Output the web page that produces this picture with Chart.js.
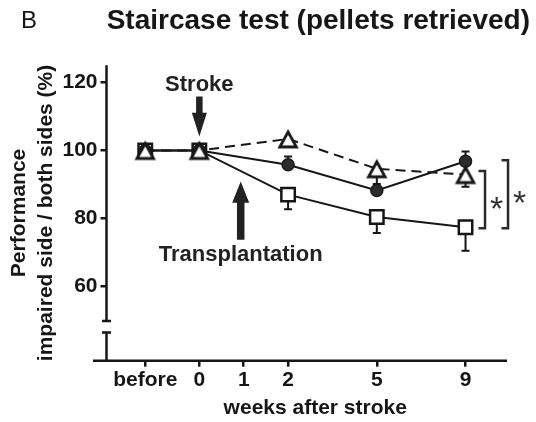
<!DOCTYPE html>
<html>
<head>
<meta charset="utf-8">
<title>Staircase test</title>
<script src="https://cdn.jsdelivr.net/npm/chart.js@4.4.0/dist/chart.umd.min.js"></script>
<style>
  html, body { margin: 0; padding: 0; background: #fff; }
  #wrap { width: 536px; height: 422px; }
</style>
</head>
<body>
<div id="wrap"><canvas id="chart" width="536" height="422"></canvas></div>
<script>
// week axis: the figure spaces its ticks unevenly, so each tick gets a position
const tickLabels = ['before', '0', '1', '2', '5', '9'];
const tickPos = [-1.22, 0, 1, 2, 4, 6];
const xRange = [-2.093, 7.318];

const yTicks = [60, 80, 100, 120];
const yRange = [38.1, 125.1];
const axisBreak = [46.4, 49.8];

// sessions at which the groups were tested
const weeks = ['before', '0', '2', '5', '9'];

// performance, impaired side / both sides (%)
const triangleVals = [100, 100, 103.4, 94.6, 92.9];
const circleVals = [100, 100, 95.8, 88.2, 96.8];
const squareVals = [100, 100, 87.0, 80.4, 77.4];

// one-sided error bars as drawn
const triangleErr = [0, 0, 0, 4.5, 3.6];   // down
const circleErr = [0, 0, 2.4, 0, 2.9];     // up
const squareErr = [0, 0, 4.3, 4.7, 6.9];   // down

const ink = '#161616';
const family = '"Liberation Sans", Arial, sans-serif';

function toPoints(vals) {
  return weeks.map((w, i) => ({ x: tickPos[tickLabels.indexOf(w)], y: vals[i] }));
}

// open triangle, centred on its bounding box like the original
function triangleMarker() {
  const c = document.createElement('canvas');
  c.width = 24; c.height = 22;
  const g = c.getContext('2d');
  g.beginPath();
  g.moveTo(12, 4); g.lineTo(20.3, 19); g.lineTo(3.7, 19); g.closePath();
  g.fillStyle = '#fff'; g.fill();
  g.lineWidth = 2.8; g.strokeStyle = ink; g.lineJoin = 'miter'; g.stroke();
  return c;
}

function arrow(ctx, x, tipY, dir, len, headLen, headW, shaftW) {
  // dir 1 points down, -1 points up
  const baseY = tipY - dir * headLen, endY = tipY - dir * len;
  ctx.beginPath();
  ctx.moveTo(x, tipY);
  ctx.lineTo(x - headW / 2, baseY);
  ctx.lineTo(x - shaftW / 2, baseY);
  ctx.lineTo(x - shaftW / 2, endY);
  ctx.lineTo(x + shaftW / 2, endY);
  ctx.lineTo(x + shaftW / 2, baseY);
  ctx.lineTo(x + headW / 2, baseY);
  ctx.closePath();
  ctx.fill();
}

const brokenAxes = {
  id: 'brokenAxes',
  beforeDatasetsDraw(chart) {
    const { ctx, chartArea: a, scales: { x, y } } = chart;
    const yb1 = y.getPixelForValue(axisBreak[1]);
    const yb0 = y.getPixelForValue(axisBreak[0]);
    ctx.save();
    ctx.strokeStyle = ink;
    ctx.lineWidth = 2.5;
    ctx.beginPath();
    ctx.moveTo(a.left, a.top); ctx.lineTo(a.left, yb1);
    ctx.moveTo(a.left - 4.5, yb1); ctx.lineTo(a.left + 4.5, yb1);
    ctx.moveTo(a.left - 4.5, yb0); ctx.lineTo(a.left + 4.5, yb0);
    ctx.moveTo(a.left, yb0); ctx.lineTo(a.left, a.bottom);
    ctx.moveTo(a.left - 13.5, a.bottom);
    ctx.lineTo(x.getPixelForValue(tickPos[tickPos.length - 1]) + 41.5, a.bottom);
    ctx.stroke();
    ctx.restore();
  }
};

const errorBars = {
  id: 'errorBars',
  beforeDatasetsDraw(chart) {
    const { ctx, scales: { y } } = chart;
    ctx.save();
    ctx.strokeStyle = ink;
    ctx.lineWidth = 2;
    chart.data.datasets.forEach((ds, di) => {
      const meta = chart.getDatasetMeta(di);
      ds.errors.forEach((e, i) => {
        if (!e) return;
        const pt = meta.data[i];
        const yEnd = y.getPixelForValue(ds.data[i].y + ds.errorDir * e);
        ctx.beginPath();
        ctx.moveTo(pt.x, pt.y); ctx.lineTo(pt.x, yEnd);
        ctx.moveTo(pt.x - 4, yEnd); ctx.lineTo(pt.x + 4, yEnd);
        ctx.stroke();
      });
    });
    ctx.restore();
  }
};

const notes = {
  id: 'notes',
  afterDatasetsDraw(chart) {
    const { ctx, scales: { x, y } } = chart;
    const y100 = y.getPixelForValue(100);
    ctx.save();
    ctx.fillStyle = '#222';
    ctx.textAlign = 'center';
    ctx.textBaseline = 'middle';
    ctx.font = 'bold 22px ' + family;

    // stroke at week 0
    const xs = x.getPixelForValue(0);
    const tipS = y100 - 14;
    arrow(ctx, xs, tipS, 1, 40, 23.7, 15, 6.5);
    ctx.fillText('Stroke', xs, tipS - 52);

    // transplantation at week 1
    const xt = x.getPixelForValue(1) - 3;
    const tipT = y100 + 31;
    arrow(ctx, xt, tipT, -1, 58.3, 21.3, 17, 7.5);
    ctx.fillText('Transplantation', xt, tipT + 73.5);

    // significance brackets at week 9
    const x9 = x.getPixelForValue(6);
    const last = weeks.length - 1;
    const bottom = y.getPixelForValue(squareVals[last]) + 1;
    const brackets = [
      { x: x9 + 19.5, top: y.getPixelForValue(triangleVals[last]) - 3.5 },
      { x: x9 + 42.5, top: y.getPixelForValue(circleVals[last]) - 1 }
    ];
    ctx.strokeStyle = '#2a2a2a';
    ctx.lineWidth = 2.5;
    ctx.font = '34px ' + family;
    ctx.textBaseline = 'alphabetic';
    brackets.forEach(b => {
      ctx.beginPath();
      ctx.moveTo(b.x - 6.5, b.top); ctx.lineTo(b.x, b.top);
      ctx.lineTo(b.x, bottom); ctx.lineTo(b.x - 6.5, bottom);
      ctx.stroke();
      ctx.fillStyle = '#333';
      ctx.fillText('*', b.x + 11.5, (b.top + bottom) / 2 + 20);
    });

    // panel letter
    ctx.fillStyle = ink;
    ctx.textAlign = 'left';
    ctx.textBaseline = 'middle';
    ctx.font = '24px ' + family;
    ctx.fillText('B', 21, 21);
    ctx.restore();
  }
};

const tickFont = { family: family, size: 21, weight: 'bold' };

new Chart(document.getElementById('chart'), {
  type: 'line',
  data: {
    datasets: [
      {
        label: 'triangles',
        data: toPoints(triangleVals),
        errors: triangleErr, errorDir: -1,
        borderColor: ink, borderWidth: 2, borderDash: [10, 6],
        pointStyle: triangleMarker(), pointRadius: 10
      },
      {
        label: 'circles',
        data: toPoints(circleVals),
        errors: circleErr, errorDir: 1,
        borderColor: ink, borderWidth: 2,
        pointStyle: 'circle', pointRadius: 6,
        pointBackgroundColor: '#2f2b2b', pointBorderColor: '#1a1a1a', pointBorderWidth: 1.5
      },
      {
        label: 'squares',
        data: toPoints(squareVals),
        errors: squareErr, errorDir: -1,
        borderColor: ink, borderWidth: 2,
        pointStyle: 'rect', pointRadius: 9.5,
        pointBackgroundColor: '#fff', pointBorderColor: ink, pointBorderWidth: 2.5
      }
    ]
  },
  options: {
    responsive: false,
    animation: false,
    events: [],
    layout: { padding: { right: 6 } },
    plugins: {
      legend: { display: false },
      tooltip: { enabled: false },
      title: {
        display: true,
        text: 'Staircase test (pellets retrieved)',
        align: 'end',
        color: ink,
        font: { family: family, size: 28, weight: 'bold' },
        padding: { top: 4, bottom: 27.6 }
      }
    },
    scales: {
      x: {
        type: 'linear',
        min: xRange[0], max: xRange[1],
        afterFit(s) { s.height = 61.3; },
        afterBuildTicks(s) { s.ticks = tickPos.map(v => ({ value: v })); },
        grid: { drawOnChartArea: false, drawTicks: true, tickLength: 6, lineWidth: 2.5, color: ink },
        border: { display: false },
        ticks: {
          autoSkip: false, maxRotation: 0, padding: 1,
          color: ink, font: tickFont,
          callback: (v, i) => tickLabels[i]
        },
        title: {
          display: true, text: 'weeks after stroke', color: ink,
          font: tickFont, padding: { top: 0, bottom: 1 }
        }
      },
      y: {
        min: yRange[0], max: yRange[1],
        afterFit(s) { s.width = 106.5; },
        afterBuildTicks(s) { s.ticks = yTicks.map(v => ({ value: v })); },
        grid: { drawOnChartArea: false, drawTicks: true, tickLength: 6, lineWidth: 2.5, color: ink },
        border: { display: false },
        ticks: { padding: 3, color: ink, font: tickFont },
        title: {
          display: true,
          text: ['Performance', 'impaired side / both sides (%)'],
          color: ink,
          font: { family: family, size: 21, weight: 'bold', lineHeight: 1.29 },
          padding: { top: 6, bottom: 0 }
        }
      }
    }
  },
  plugins: [brokenAxes, errorBars, notes]
});
</script>
</body>
</html>
